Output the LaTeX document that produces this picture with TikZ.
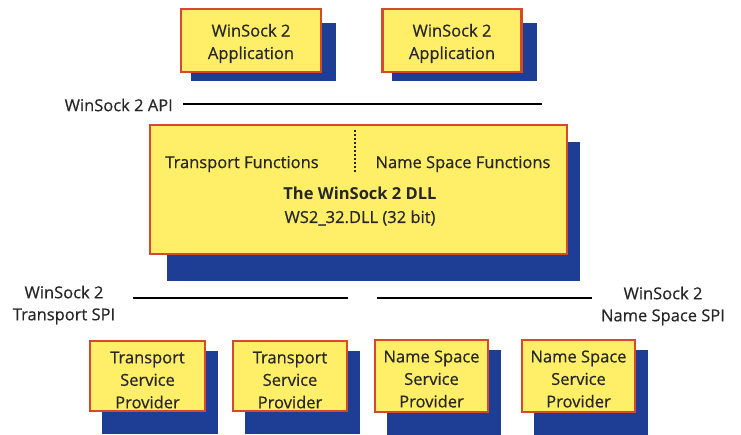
\documentclass[tikz,border=0pt]{standalone}
\usepackage{fontspec}
\setmainfont{Open Sans}
\newfontfamily\labelfont{Open Sans}[FakeBold=0.5]
\usetikzlibrary{calc,backgrounds}
\definecolor{boxyellow}{RGB}{255,238,104}
\definecolor{boxred}{RGB}{212,74,42}
\definecolor{shadownavy}{RGB}{30,62,150}
\definecolor{txt}{RGB}{38,38,38}
\tikzset{
  ybox/.style={draw=boxred, line width=2.8pt, fill=boxyellow, inner sep=0pt},
  boxtext/.style={align=center, inner sep=0pt, font=\labelfont\fontsize{16.5}{22.5}\selectfont, text=txt},
  lbl/.style={font=\labelfont\fontsize{16.5}{22}\selectfont, text=txt, inner sep=0pt},
  bar/.style={line width=2.8pt, black},
  shadowfill/.style={fill=shadownavy, draw=none}
}
\begin{document}
\begin{tikzpicture}[x=1pt,y=-1pt]
\useasboundingbox (0,0) rectangle (741,434);
% top application boxes
\node[ybox, minimum width=140pt, minimum height=63pt] (app1) at (251,40.5) {};
\node[ybox, minimum width=139pt, minimum height=63pt] (app2) at (452,40.5) {};
\node[boxtext] (app1t) at ($(app1.center)+(0,3)$) {WinSock 2\\Application};
\node[boxtext] (app2t) at ($(app2.center)+(0,3)$) {WinSock 2\\Application};
% DLL box
\node[ybox, minimum width=417pt, minimum height=129pt] (dll) at (358.5,189.5) {};
\node[lbl] (tf) at (242,164) {Transport Functions};
\node[lbl] (nsf) at (463,164) {Name Space Functions};
\node[lbl, font=\fontsize{16.5}{22}\selectfont\bfseries] (dllname) at (360,193) {The WinSock 2 DLL};
\node[lbl] (dllfile) at (360,218) {WS2\_32.DLL (32 bit)};
\coordinate (dtop) at (355,130);
\coordinate (dbot) at (355,173);
\draw[line width=2pt, dotted, txt] (dtop) -- (dbot);
% bottom provider boxes
\node[ybox, minimum width=115pt, minimum height=70pt] (tsp1) at (147.5,376) {};
\node[ybox, minimum width=114pt, minimum height=70pt] (tsp2) at (290,376) {};
\node[ybox, minimum width=113pt, minimum height=72pt] (nsp1) at (431.5,376) {};
\node[ybox, minimum width=113pt, minimum height=72pt] (nsp2) at (578.5,376) {};
\node[boxtext] (tsp1t) at ($(tsp1.center)+(0,4)$) {Transport\\Service\\Provider};
\node[boxtext] (tsp2t) at ($(tsp2.center)+(0,4)$) {Transport\\Service\\Provider};
\node[boxtext] (nsp1t) at ($(nsp1.center)+(0,3)$) {Name Space\\Service\\Provider};
\node[boxtext] (nsp2t) at ($(nsp2.center)+(0,3)$) {Name Space\\Service\\Provider};
% API and SPI labels and bars
\node[lbl, anchor=east] (api) at (173,105) {WinSock 2 API};
\coordinate (apiA) at (183,104);
\coordinate (apiB) at (542,104);
\draw[bar] (apiA) -- (apiB);
\node[lbl, align=center] (tspi) at (64,305) {WinSock 2\\Transport SPI};
\node[lbl, align=center] (nspi) at (663,306) {WinSock 2\\Name Space SPI};
\coordinate (tA) at (133,298);
\coordinate (tB) at (348,298);
\coordinate (nA) at (377,298);
\coordinate (nB) at (592,298);
\draw[bar] (tA) -- (tB);
\draw[bar] (nA) -- (nB);
% shadows
\begin{scope}[on background layer]
\foreach \n in {app1,app2}{
  \fill[shadowfill] ($(\n.north west)+(11,15)$) rectangle ($(\n.south east)+(14,8)$);
}
\fill[shadowfill] ($(dll.north west)+(18,18)$) rectangle ($(dll.south east)+(12,26)$);
\foreach \n in {tsp1,tsp2,nsp1,nsp2}{
  \fill[shadowfill] ($(\n.north west)+(13,11)$) rectangle ($(\n.south east)+(12,22)$);
}
\end{scope}
\end{tikzpicture}
\end{document}
